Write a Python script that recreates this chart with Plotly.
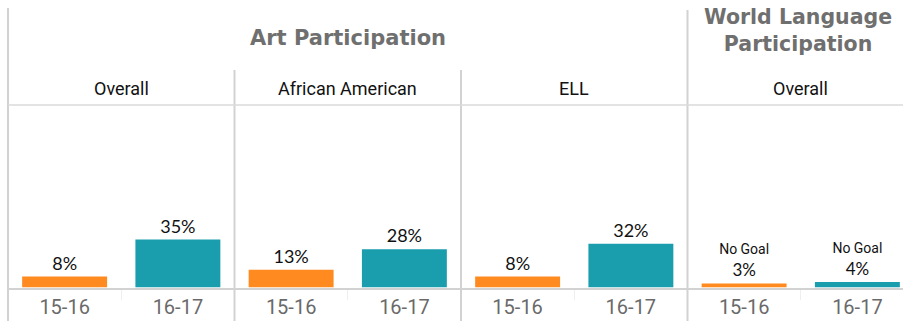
import plotly.graph_objects as go
from plotly.subplots import make_subplots

# Participation data: one panel per student group
periods = ["15-16", "16-17"]
groups = ["Overall", "African American", "ELL", "Overall"]
rates = [
    [8, 35],   # Art - Overall
    [13, 28],  # Art - African American
    [8, 32],   # Art - ELL
    [3, 4],    # World Language - Overall
]
label_prefix = [
    ["", ""],
    ["", ""],
    ["", ""],
    ["No Goal", "No Goal"],
]
art_title = "Art Participation"
wl_title = "World Language<br>Participation"

bar_colors = ["#FF8A1F", "#1A9DAC"]
grid_color = "#D2D2D2"
W, H = 903, 321

NARROW = "Roboto, Lato, sans-serif"
VALUE = "Lato, sans-serif"
BOLD = "DejaVu Sans, sans-serif"

# panel geometry (pixels)
panel_left = 8
panel_w = 226.5
base_px = 287.5
top_px = 105
px_per_pct = 1.37


def px_x(v):
    return v / W


def px_y(v):
    return 1 - v / H


def bar_label(prefix, value):
    pct = f"{value}%"
    if not prefix:
        return pct
    return (f"<span style='font-family:Roboto;font-size:14px'>{prefix}</span>"
            f"<br>{pct}")


fig = make_subplots(rows=1, cols=4, horizontal_spacing=0)

for i, (vals, pre) in enumerate(zip(rates, label_prefix)):
    col = i + 1
    fig.add_trace(
        go.Bar(
            x=periods,
            y=vals,
            width=0.75,
            marker=dict(color=bar_colors, line=dict(width=0)),
            text=[bar_label(p, v) for p, v in zip(pre, vals)],
            textposition="outside",
            textfont=dict(family=VALUE, size=17 if i == 3 else 18,
                          color="#111111"),
            constraintext="none",
            cliponaxis=False,
            hoverinfo="skip",
            showlegend=False,
        ),
        row=1, col=col,
    )
    x0 = panel_left + i * panel_w
    x1 = min(x0 + panel_w, W)
    visible = (x1 - x0) / panel_w
    suffix = "" if i == 0 else str(col)
    fig.layout["xaxis" + suffix].update(
        domain=[px_x(x0), px_x(x1)],
        range=[-0.5, -0.5 + 2 * visible],
        type="category",
        showline=True, linecolor=grid_color, linewidth=2,
        ticks="outside", tickson="boundaries", ticklen=10,
        tickcolor="#EFEFEF", tickwidth=1,
        tickfont=dict(family=NARROW, size=20, color="#6A6A6A"),
        showgrid=False, zeroline=False, fixedrange=True,
    )
    fig.layout["yaxis" + suffix].update(
        domain=[px_y(base_px), px_y(top_px)],
        range=[0, (base_px - top_px) / px_per_pct],
        visible=False, fixedrange=True,
    )
    # group name above each panel
    fig.add_annotation(
        x=px_x(x0 + panel_w / 2), y=px_y(89), xref="paper", yref="paper",
        text=groups[i], showarrow=False, xanchor="center", yanchor="middle",
        font=dict(family=NARROW, size=18, color="#111111"),
    )

# section headings
fig.add_annotation(
    x=px_x(panel_left + 1.5 * panel_w), y=px_y(38), xref="paper", yref="paper",
    text="<b>" + art_title + "</b>", showarrow=False,
    xanchor="center", yanchor="middle",
    font=dict(family=BOLD, size=21, color="#6F6F6F"),
)
fig.add_annotation(
    x=px_x(798), y=px_y(30), xref="paper", yref="paper",
    text="<b>" + wl_title + "</b>", showarrow=False,
    xanchor="center", yanchor="middle",
    font=dict(family=BOLD, size=20.5, color="#6F6F6F"),
)

# table-like divider lines
shapes = []
for i, top in enumerate([8, 70, 70, 10]):
    xv = panel_left + i * panel_w
    shapes.append(dict(type="line", xref="paper", yref="paper",
                       x0=px_x(xv), x1=px_x(xv), y0=px_y(top), y1=0,
                       line=dict(color=grid_color, width=2)))
shapes.append(dict(type="line", xref="paper", yref="paper",
                   x0=px_x(panel_left), x1=1, y0=px_y(top_px), y1=px_y(top_px),
                   line=dict(color="#DADADA", width=1.5)))
fig.update_layout(shapes=shapes)

fig.update_layout(
    width=W, height=H,
    margin=dict(l=0, r=0, t=0, b=0),
    paper_bgcolor="white", plot_bgcolor="white",
    bargap=0.25,
)

fig.write_html("out.html")
